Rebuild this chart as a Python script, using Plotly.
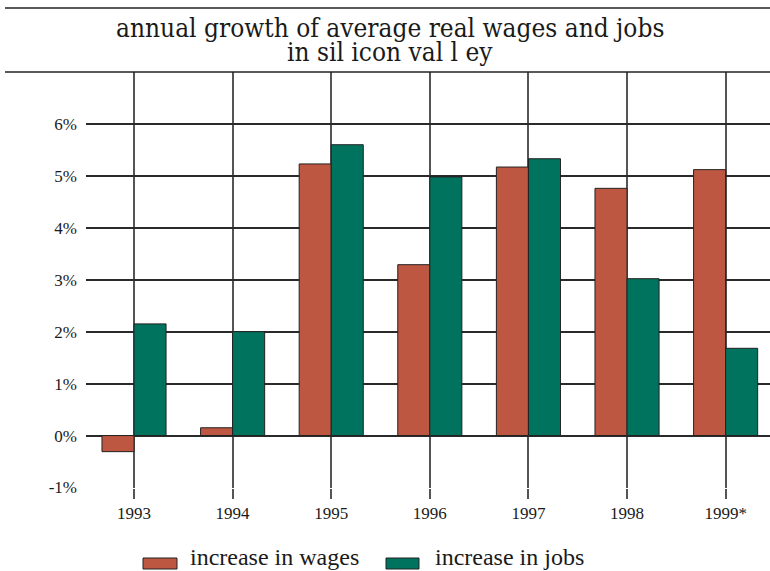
import plotly.graph_objects as go

# Annual growth of average real wages and jobs, Silicon Valley (percent)
years = ["1993", "1994", "1995", "1996", "1997", "1998", "1999*"]
wages = [-0.31, 0.15, 5.23, 3.29, 5.17, 4.76, 5.12]
jobs = [2.15, 2.00, 5.60, 4.98, 5.33, 3.02, 1.68]
y_ticks = [-1, 0, 1, 2, 3, 4, 5, 6]
y_labels = ["-1%", "0%", "1%", "2%", "3%", "4%", "5%", "6%"]
series_names = ["increase in wages", "increase in jobs"]
title_lines = ["annual growth of average real wages and jobs", "in sil icon val l ey"]

RED = "#BE5741"
GREEN = "#00735E"
INK = "#1a1a1a"
W, H = 770, 571
L, R, T, B = 86, 0, 72, 83  # plot area 86..770 x 72..488

SERIF = "Liberation Serif, DejaVu Serif, serif"
TITLE_FONT = "DejaVu Serif Condensed, Liberation Serif, serif"

xpos = list(range(len(years)))

fig = go.Figure()
fig.add_trace(go.Bar(x=xpos, y=wages, name=series_names[0], marker_color=RED,
                     marker_line=dict(color="#222", width=1), showlegend=False))
fig.add_trace(go.Bar(x=xpos, y=jobs, name=series_names[1], marker_color=GREEN,
                     marker_line=dict(color="#222", width=1), showlegend=False))


def px_x(p):
    return (p - L) / (W - L - R)


def px_y(p):
    return (H - B - p) / (H - T - B)


shapes = [
    dict(type="line", xref="paper", yref="paper", x0=px_x(5), x1=1, y0=px_y(8), y1=px_y(8),
         line=dict(color="#222", width=1.5)),
    dict(type="line", xref="paper", yref="paper", x0=px_x(5), x1=1, y0=1, y1=1,
         line=dict(color="#222", width=1.5)),
    # legend swatches
    dict(type="rect", xref="paper", yref="paper", x0=px_x(143), x1=px_x(177), y0=px_y(569), y1=px_y(558),
         fillcolor=RED, line=dict(color="#222", width=1)),
    dict(type="rect", xref="paper", yref="paper", x0=px_x(386), x1=px_x(419), y0=px_y(569), y1=px_y(558),
         fillcolor=GREEN, line=dict(color="#222", width=1)),
]

annotations = [
    dict(text=title_lines[0], xref="paper", yref="paper", x=px_x(390), y=px_y(28),
         xanchor="center", yanchor="middle", showarrow=False,
         font=dict(family=TITLE_FONT, size=26, color=INK)),
    dict(text=title_lines[1], xref="paper", yref="paper", x=px_x(390), y=px_y(52),
         xanchor="center", yanchor="middle", showarrow=False,
         font=dict(family=TITLE_FONT, size=26, color=INK)),
    dict(text=series_names[0], xref="paper", yref="paper", x=px_x(188), y=px_y(557),
         xanchor="left", yanchor="middle", showarrow=False,
         font=dict(family=SERIF, size=24, color=INK)),
    dict(text=series_names[1], xref="paper", yref="paper", x=px_x(433), y=px_y(557),
         xanchor="left", yanchor="middle", showarrow=False,
         font=dict(family=SERIF, size=24, color=INK)),
]

fig.update_layout(
    width=W, height=H,
    margin=dict(l=L, r=R, t=T, b=B, pad=0),
    paper_bgcolor="white", plot_bgcolor="white",
    barmode="group", bargap=0.35, bargroupgap=0,
    shapes=shapes, annotations=annotations,
    font=dict(family=SERIF, size=16, color=INK),
    xaxis=dict(
        range=[-0.487, 6.45], tickvals=xpos, ticktext=years,
        showgrid=True, gridcolor="#555", gridwidth=1.5,
        ticks="outside", ticklen=10, tickcolor="#555", tickwidth=1.5,
        showline=False, zeroline=False, layer="below traces",
        tickfont=dict(family=SERIF, size=17, color=INK),
    ),
    yaxis=dict(
        range=[-1.01, 7.0], tickvals=y_ticks, ticktext=y_labels,
        showgrid=True, gridcolor="#2a2a2a", gridwidth=1.5,
        zeroline=True, zerolinecolor="#2a2a2a", zerolinewidth=1.5,
        showline=False, ticks="", ticklabelstandoff=8,
        tickfont=dict(family=SERIF, size=17, color=INK),
    ),
)

fig.write_html("out.html")
